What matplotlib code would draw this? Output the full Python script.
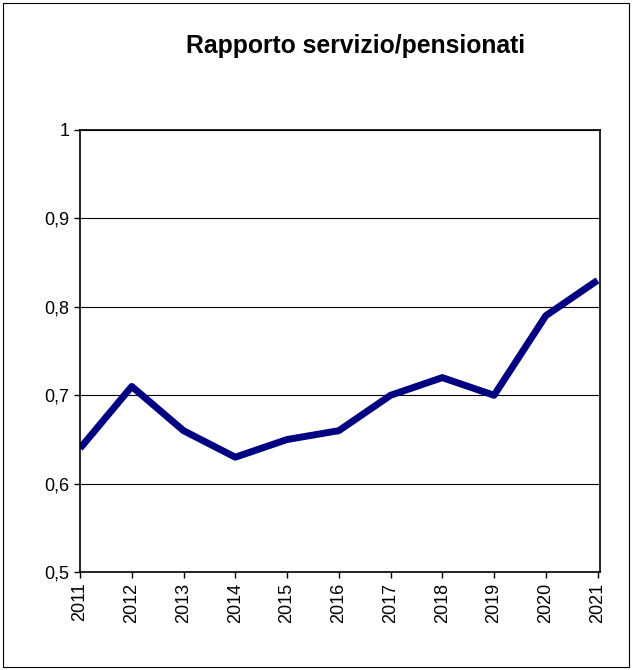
import matplotlib
matplotlib.use("Agg")
import matplotlib.pyplot as plt
from matplotlib.patches import Rectangle

years = [2011, 2012, 2013, 2014, 2015, 2016, 2017, 2018, 2019, 2020, 2021]
ratio = [0.64, 0.71, 0.66, 0.63, 0.65, 0.66, 0.70, 0.72, 0.70, 0.79, 0.83]
yticks = [0.5, 0.6, 0.7, 0.8, 0.9, 1.0]
ylabels = ["0,5", "0,6", "0,7", "0,8", "0,9", "1"]

plt.rcParams["font.family"] = ["Liberation Sans", "DejaVu Sans"]

fig = plt.figure(figsize=(6.32, 6.70), dpi=100)
fig.patches.append(Rectangle((0.005, 0.005), 0.99, 0.99, transform=fig.transFigure,
                             fill=False, edgecolor="black", linewidth=0.8))
ax = fig.add_axes([0.1266, 0.146, 0.823, 0.660])
ax.plot(years, ratio, color="#000080", linewidth=5, solid_capstyle="butt")
ax.set_xlim(2011, 2021.05)
ax.set_ylim(0.5, 1.0)
ax.set_yticks(yticks)
ax.set_yticklabels(ylabels, fontsize=13)
ax.set_xticks(years)
ax.set_xticklabels([str(y) for y in years], rotation=90, fontsize=13)
ax.yaxis.grid(True, color="black", linewidth=0.8)
ax.set_axisbelow(True)
for s in ax.spines.values():
    s.set_linewidth(1.2)
ax.tick_params(direction="out", length=4, width=1)
fig.text(0.562, 0.932, "Rapporto servizio/pensionati", ha="center", va="center",
         fontsize=17.8, fontweight="bold")
fig.savefig("out.png", dpi=100)
